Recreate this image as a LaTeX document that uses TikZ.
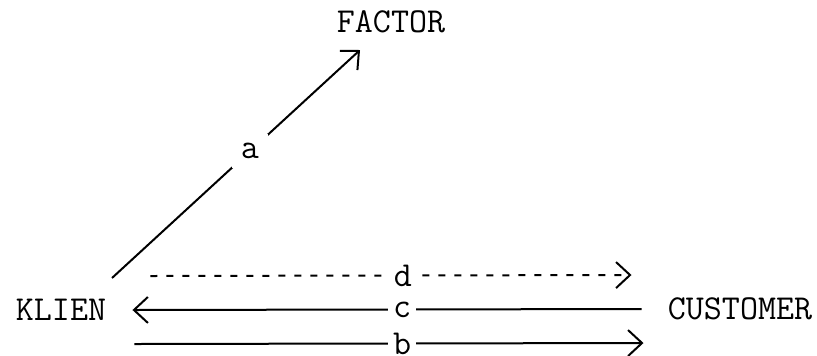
\documentclass[tikz,border=0pt]{standalone}
\usetikzlibrary{arrows.meta}

\begin{document}
\begin{tikzpicture}[
  x=0.5pt, y=-0.5pt,
  font=\ttfamily\fontsize{17.5}{20}\selectfont,
  party/.style={inner xsep=13pt, inner ysep=2pt},
  tag/.style={fill=white, inner xsep=2.5pt, inner ysep=0.5pt},
  flow/.style={line width=1pt, -{Straight Barb[length=7pt, width=13pt]}},
  backflow/.style={line width=1pt, {Straight Barb[length=7pt, width=13pt]}-},
]
\useasboundingbox (0,0) rectangle (817,355);

\node[party] (factor) at (391,22) {FACTOR};
\node[party] (klien) at (61,310) {KLIEN};
\node[party] (customer) at (740,309) {CUSTOMER};

\draw[flow] ([shift={(25.5pt,16pt)}]klien.center) --
  node[tag, inner sep=4.5pt, pos=0.556] {a} ([shift={(-15.5pt,-14pt)}]factor.center);

\draw[flow, dash pattern=on 3.5pt off 4.5pt]
  ([xshift=9pt, yshift=17pt]klien.east) --
  node[tag, pos=0.525] {d} ([xshift=-5pt, yshift=17pt]customer.west);
\draw[backflow]
  (klien.east) -- node[tag, pos=0.53] {c} (customer.west);
\draw[flow]
  ([xshift=1pt, yshift=-17pt]klien.east) --
  node[tag, pos=0.526] {b} ([xshift=1pt, yshift=-17pt]customer.west);

\end{tikzpicture}
\end{document}
